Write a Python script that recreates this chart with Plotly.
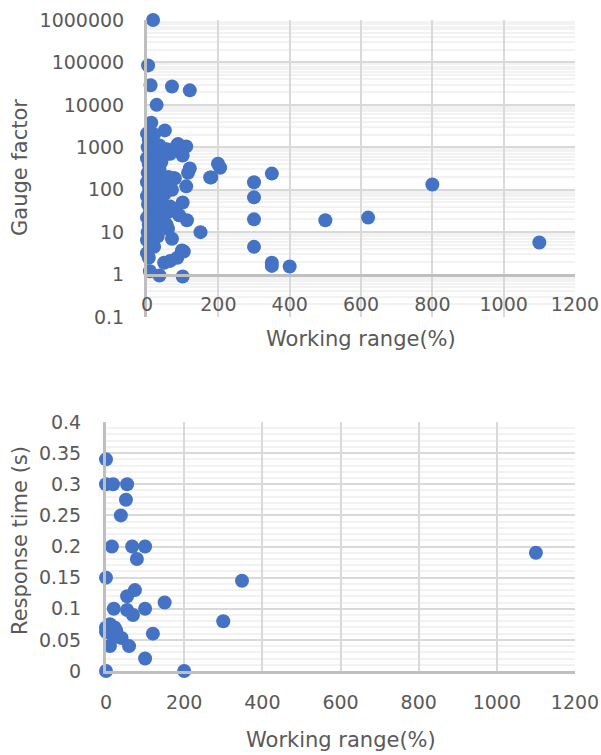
import plotly.graph_objects as go

# ---- Top chart: gauge factor vs working range ----
gf_range = [17, 3, 10, 70, 120, 27, 12, 0, 50, 110, 87, 100, 199, 205, 180, 300, 350, 300, 300, 300,
            350, 350, 400, 500, 620, 800, 1100, 150, 100, 35, 8, 48, 65, 85, 103, 110, 115, 75,
            84, 120, 78, 100, 112, 70, 98, 59, 177,
            5, 15, 2, 22, 8, 30, 0, 12, 25, 40, 5, 18, 35, 2, 10, 28, 45, 0, 15, 38, 6, 22, 50, 0,
            12, 30, 3, 20, 42, 8, 28, 60, 0, 15, 35, 5, 25, 48, 2, 12, 30, 0, 8, 20, 0, 5, 40, 55,
            65, 70, 80, 90, 60, 45, 55, 65, 35, 20]
gf_value = [1000000, 85000, 29000, 27000, 22000, 10000, 3800, 2100, 2500, 1050, 1200, 640, 410, 330, 195, 150, 240, 66, 20, 4.5,
            1.9, 1.6, 1.55, 19, 22, 133, 5.7, 10, 0.9, 0.95, 1.2, 1.9, 2.1, 2.5, 3.5, 120, 250, 190,
            1100, 316, 185, 50, 19, 7, 3.7, 12, 195,
            1500, 1300, 1000, 900, 800, 700, 550, 600, 500, 450, 400, 350, 300, 250, 220, 200, 160, 150, 130, 110, 100, 90, 80, 70,
            60, 55, 45, 40, 35, 30, 28, 30, 22, 20, 18, 15, 13, 25, 10, 9, 8, 6.5, 5, 4.5, 3.2, 2.5, 60, 15,
            40, 100, 35, 25, 200, 600, 900, 700, 1100, 2000]

# ---- Bottom chart: response time vs working range ----
rt_range = [0, 0, 18, 54, 51, 38, 15, 67, 100, 79, 0, 74, 54, 150, 20, 54, 100, 69, 0, 10, 22, 0, 12, 26,
            40, 30, 10, 59, 120, 100, 0, 200, 300, 348, 1100]
rt_value = [0.34, 0.30, 0.30, 0.30, 0.275, 0.25, 0.20, 0.20, 0.20, 0.18, 0.15, 0.13, 0.12, 0.11, 0.10, 0.098, 0.10, 0.09,
            0.07, 0.075, 0.07, 0.063, 0.06, 0.065, 0.053, 0.055, 0.04, 0.04, 0.06, 0.02, 0.0, 0.0, 0.08, 0.145, 0.19]

gf_ticks = [0.1, 1, 10, 100, 1000, 10000, 100000, 1000000]
gf_ticktext = ["0.1", "1", "10", "100", "1000", "10000", "100000", "1000000"]
x_ticks = [0, 200, 400, 600, 800, 1000, 1200]

W, H = 601, 755
BLUE = "#4472C4"
TXT = "#595959"
GRID = "#d9d9d9"
MINOR = "#f2f2f2"
AXL = "#bfbfbf"
FONT = "DejaVu Sans"
TICKSIZE = 19
TITLESIZE = 21

def fx(px):
    return px / W

def fy(py):
    return 1 - py / H

minor_log = [m * 10 ** e for e in range(-1, 6) for m in range(2, 10)]

fig = go.Figure()
fig.add_trace(go.Scatter(x=gf_range, y=gf_value, mode="markers",
                         marker=dict(color=BLUE, size=14, line=dict(width=0)),
                         xaxis="x", yaxis="y", showlegend=False, cliponaxis=False))
fig.add_trace(go.Scatter(x=rt_range, y=rt_value, mode="markers",
                         marker=dict(color=BLUE, size=14, line=dict(width=0)),
                         xaxis="x2", yaxis="y2", showlegend=False, cliponaxis=False))

top_y0, top_y1 = fy(317), fy(20)
axis_pos = top_y0 + (top_y1 - top_y0) / 7.0

common = dict(showgrid=True, gridcolor=GRID, gridwidth=1.5,
              showline=True, linecolor=AXL, linewidth=3,
              zeroline=False, ticks="", automargin=False,
              tickfont=dict(size=TICKSIZE, color=TXT, family=FONT))

def title(text, px, py, angle=0):
    return dict(text=text, x=fx(px), y=fy(py), xref="paper", yref="paper",
                xanchor="center", yanchor="middle", textangle=angle, showarrow=False,
                font=dict(size=TITLESIZE, color=TXT, family=FONT))

fig.update_layout(
    width=W, height=H,
    margin=dict(l=0, r=0, t=0, b=0, autoexpand=False),
    paper_bgcolor="white", plot_bgcolor="white",
    font=dict(family=FONT, color=TXT, size=TICKSIZE),
    xaxis=dict(domain=[fx(147), fx(575)], range=[0, 1200], tickvals=x_ticks,
               anchor="free", position=axis_pos, ticklabelstandoff=12, **common),
    yaxis=dict(domain=[top_y0, top_y1], type="log", range=[-1, 6],
               tickvals=gf_ticks, ticktext=gf_ticktext,
               minor=dict(tickmode="array", tickvals=minor_log, showgrid=True, gridcolor=MINOR, gridwidth=1.5, ticks=""),
               ticklabelstandoff=16, anchor="x", **common),
    xaxis2=dict(domain=[fx(106), fx(575)], range=[0, 1200], tickvals=x_ticks,
                anchor="y2", ticklabelstandoff=12, **common),
    yaxis2=dict(domain=[fy(671), fy(422)], range=[0, 0.4], dtick=0.05, tick0=0,
                anchor="x2",
                minor=dict(dtick=0.01, showgrid=True, gridcolor=MINOR, gridwidth=1.5, ticks=""),
                ticklabelstandoff=18, **common),
    annotations=[
        title("Gauge factor", 20, 168, -90),
        title("Working range(%)", 361, 339),
        title("Response time (s)", 20, 541, -90),
        title("Working range(%)", 341, 740),
    ],
)

fig.write_html("out.html", config={"displayModeBar": False},
               post_script="document.body.style.margin='0';document.body.style.overflow='hidden';")
